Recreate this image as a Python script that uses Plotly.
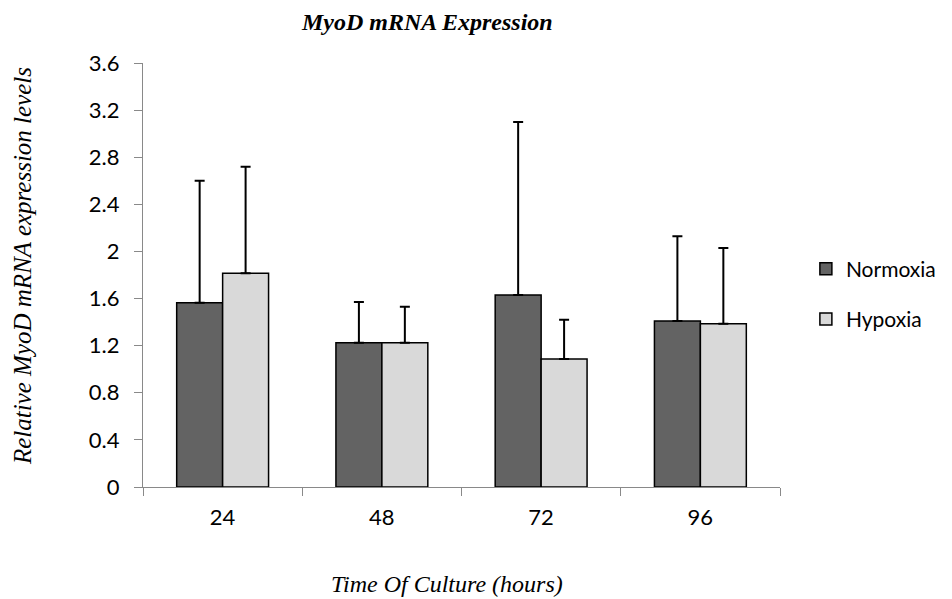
import plotly.graph_objects as go

categories = ["24", "48", "72", "96"]
normoxia = [1.565, 1.225, 1.63, 1.41]
normoxia_err = [1.035, 0.345, 1.47, 0.72]
hypoxia = [1.815, 1.225, 1.087, 1.386]
hypoxia_err = [0.905, 0.305, 0.333, 0.644]
y_ticks = [0, 0.4, 0.8, 1.2, 1.6, 2, 2.4, 2.8, 3.2, 3.6]

tick_font = dict(family="Lato, Open Sans, sans-serif", size=22, color="#000000")
serif = "Liberation Serif, Times New Roman, serif"

fig = go.Figure()
fig.add_trace(go.Bar(
    name="Normoxia", x=categories, y=normoxia,
    marker=dict(color="#636363", line=dict(color="#000000", width=1.5)),
    error_y=dict(type="data", array=normoxia_err, arrayminus=[0]*4, symmetric=False,
                 color="#000000", thickness=2, width=5),
    legendgroup="n",
))
fig.add_trace(go.Bar(
    name="Hypoxia", x=categories, y=hypoxia,
    marker=dict(color="#d9d9d9", line=dict(color="#000000", width=1.5)),
    error_y=dict(type="data", array=hypoxia_err, arrayminus=[0]*4, symmetric=False,
                 color="#000000", thickness=2, width=5),
    legendgroup="h",
))

fig.update_layout(
    width=944, height=591,
    margin=dict(l=135, r=171, t=55, b=112),
    paper_bgcolor="#ffffff", plot_bgcolor="#ffffff",
    barmode="group", bargap=0.423, bargroupgap=0,
    showlegend=True,
    legend=dict(x=1.039, y=0.5625, xanchor="left", yanchor="top",
                font=dict(family="Lato, Open Sans, sans-serif", size=21, color="#000000"),
                traceorder="grouped", tracegroupgap=20, bgcolor="rgba(0,0,0,0)"),
    xaxis=dict(type="category", showline=True, linecolor="#898989", linewidth=1.3,
               ticks="outside", tickson="boundaries", ticklen=8, tickcolor="#898989",
               ticklabelstandoff=10,
               tickfont=tick_font, showgrid=False, zeroline=False),
    yaxis=dict(range=[0, 3.6], tickvals=y_ticks, ticktext=[f"{v:g}" for v in y_ticks],
               showline=True, linecolor="#898989", linewidth=1.3,
               ticks="outside", ticklen=8, tickcolor="#898989",
               ticklabelstandoff=10,
               tickfont=tick_font, showgrid=False, zeroline=False),
    annotations=[
        dict(text="<b><i>MyoD mRNA Expression</i></b>", xref="paper", yref="paper",
             x=0.446, y=1.097, showarrow=False, xanchor="center", yanchor="middle",
             font=dict(family=serif, size=24, color="#000000")),
        dict(text="<i>Time Of Culture (hours)</i>", xref="paper", yref="paper",
             x=0.478, y=-0.229, showarrow=False, xanchor="center", yanchor="middle",
             font=dict(family=serif, size=24, color="#000000")),
        dict(text="<i>Relative MyoD mRNA expression levels</i>", xref="paper", yref="paper",
             x=-0.19, y=0.521, showarrow=False, xanchor="center", yanchor="middle",
             textangle=-90, font=dict(family=serif, size=25, color="#000000")),
    ],
)

fig.write_html("out.html")
